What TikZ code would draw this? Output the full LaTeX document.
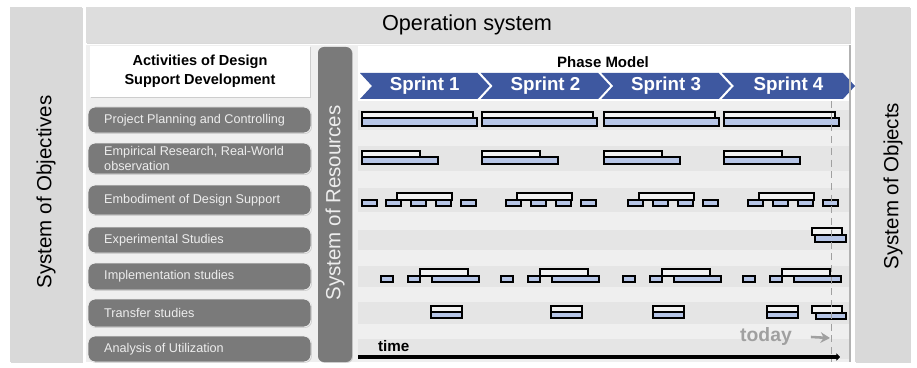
\documentclass[tikz,border=0pt]{standalone}
\usepackage{fontspec}
\setmainfont{Liberation Sans}
\usetikzlibrary{arrows.meta,shadows}

\definecolor{panelgray}{RGB}{217,217,217}
\definecolor{areagray}{RGB}{239,239,239}
\definecolor{bandgray}{RGB}{229,229,229}
\definecolor{rowgray}{RGB}{122,122,122}
\definecolor{sprintblue}{RGB}{62,88,160}
\definecolor{barblue}{RGB}{182,197,230}
\definecolor{barwhite}{RGB}{242,242,242}
\definecolor{todaygray}{RGB}{160,160,160}

\begin{document}
\begin{tikzpicture}[x=0.03cm, y=-0.03cm,
    soft/.style={drop shadow={opacity=0.3, shadow xshift=0.8pt, shadow yshift=-0.8pt}},
    rowbox/.style={fill=rowgray, draw=white!85!gray, line width=0.8pt, rounded corners=6pt},
    rowlabel/.style={text=white!93!black, font=\fontsize{10.8}{13}\selectfont, align=left, anchor=west, inner sep=0pt},
    sidelabel/.style={font=\fontsize{17.5}{20}\selectfont, rotate=90, inner sep=0pt},
    hibar/.style={fill=barwhite, draw=black, line width=1.2pt},
    lobar/.style={fill=barblue, draw=black, line width=1.2pt}]
  \useasboundingbox (0,0) rectangle (917,368);

  % outer panels
  \fill[panelgray, soft] (10,7) rectangle (82,362);
  \fill[panelgray, soft] (855,7) rectangle (910,362);
  \fill[panelgray!90!white, soft] (86,7) rectangle (850,43);
  \node (opsys) at (467,25) {\fontsize{18.5}{20}\selectfont Operation system};
  \node[sidelabel] (objectives) at (46,192) {System of Objectives};
  \node[sidelabel] (objects) at (893,186) {System of Objects};

  % inner area
  \fill[areagray] (86,45) rectangle (850,362);
  \fill[white, soft] (90,46) rectangle (310,97);
  \node[align=center, font=\fontsize{12.4}{16}\selectfont\bfseries] (activities) at (200,71)
    {Activities of Design\\Support Development};
  \fill[rowgray, rounded corners=5pt, soft] (318,47) rectangle (352,362);
  \node[sidelabel, text=white!93!black] (resources) at (335,203) {System of Resources};

  % phase model
  \fill[white] (358,46) rectangle (850,101);
  \node[font=\fontsize{12.8}{14}\selectfont\bfseries] (phase) at (603,62) {Phase Model};
  \foreach \l/\r/\k in {360/477.5/1, 480.7/598.2/2, 601.3/718.8/3, 722/843/4} {
    \fill[sprintblue] (\l,73) -- (\r,73) -- (\r+12,86) -- (\r,99)
      -- (\l,99) -- (\l+12,86) -- cycle;
    \node[text=white, font=\fontsize{16}{18}\selectfont\bfseries] (sprint\k)
      at ({(\l+\r+12)/2},86) {Sprint \k};
  }

  % activities
  \foreach \t/\b/\n/\txt in {107/133/1/{Project Planning and Controlling},
      143/174/2/{Empirical Research, Real-World\\observation},
      185/215/3/{Embodiment of Design Support},
      227/253/4/{Experimental Studies},
      263/290/5/{Implementation studies},
      299/327/6/{Transfer studies},
      336/362/7/{Analysis of Utilization}} {
    \draw[rowbox, soft] (88,\t) rectangle (311,\b);
    \node[rowlabel] (row\n) at (104,{(\t+\b)/2}) {\txt};
  }

  % time chart
  \fill[areagray] (356,101) rectangle (850,362);
  \foreach \t/\b in {107/133,143/174,185/215,227/253,263/290,299/327,336/362}
    \fill[bandgray] (358,\t+3) rectangle (849,\b-3);
  \draw[gray!60, line width=1pt] (850,45) -- (850,362);

  \foreach \s in {362,482,604,724} {
    \draw[hibar] (\s,112) rectangle (\s+111,118);
    \draw[lobar] (\s,118) rectangle (\s+115,126);
    \draw[hibar] (\s,151) rectangle (\s+58,157);
    \draw[lobar] (\s,157) rectangle (\s+76,164);
    % embodiment
    \draw[hibar] (\s+35,193) rectangle (\s+90,200);
    \foreach \o in {24,49,74,99}
      \draw[lobar] (\s+\o,200) rectangle (\s+\o+15,206);
    % implementation
    \draw[hibar] (\s+58,269) rectangle (\s+106,276);
    \draw[lobar] (\s+19,276) rectangle (\s+31,282);
    \draw[lobar] (\s+46,276) rectangle (\s+58,282);
    \draw[lobar] (\s+70,276) rectangle (\s+117,282);
  }
  \draw[lobar] (362,200) rectangle (377,206);
  \draw[hibar] (812,228) rectangle (842,235);
  \draw[lobar] (815,235) rectangle (846,242);
  \foreach \s in {431,551,653,767} {
    \draw[hibar] (\s,306) rectangle (\s+31,312);
    \draw[lobar] (\s,312) rectangle (\s+31,318);
  }
  \draw[hibar] (812,306) rectangle (842,313);
  \draw[lobar] (816,313) rectangle (846,319);

  \draw[todaygray, dashed, dash pattern=on 6pt off 4pt, line width=0.8pt] (831,101) -- (831,362);

  \coordinate (tstart) at (358,357);
  \coordinate (tend) at (840,357);
  \draw[line width=3.8pt, -{Triangle[length=3pt,width=6pt]}] (tstart) -- (tend);
  \node[font=\fontsize{13}{14}\selectfont\bfseries, anchor=base west] (time) at (374,351) {time};
  \node[text=todaygray, font=\fontsize{16.5}{18}\selectfont\bfseries] (today) at (766,337) {today};
  \coordinate (now) at (830,338);
  \draw[todaygray, line width=2.2pt, -{Stealth[length=8pt,width=9pt]}] ([xshift=0.45cm]today.east) -- (now);
\end{tikzpicture}
\end{document}
